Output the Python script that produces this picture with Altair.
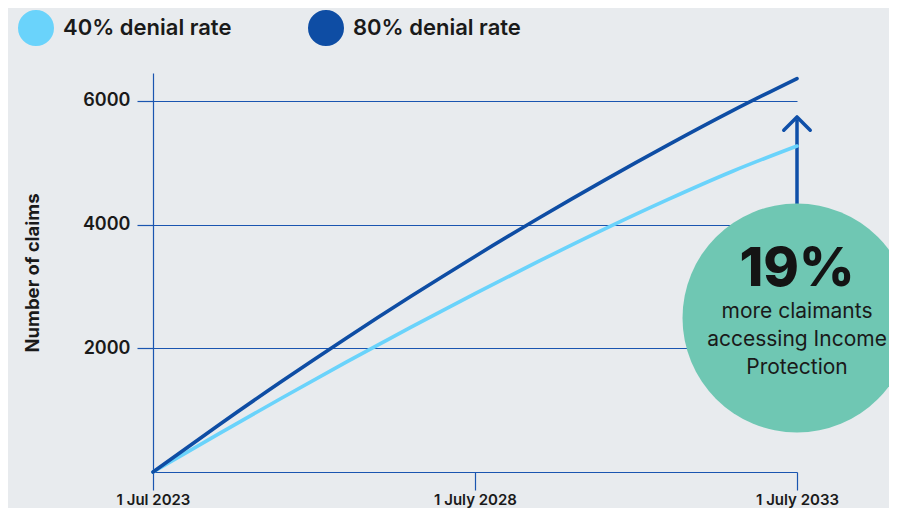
import altair as alt
import pandas as pd

years = [2023, 2024, 2025, 2026, 2027, 2028, 2029, 2030, 2031, 2032, 2033]
denial_40 = [0, 605, 1197, 1775, 2338, 2884, 3412, 3922, 4407, 4862, 5270]
denial_80 = [0, 745, 1466, 2163, 2836, 3485, 4110, 4711, 5288, 5841, 6360]
series_names = ["40% denial rate", "80% denial rate"]
series_colors = ["#6AD3FB", "#0E4DA4"]
y_ticks = [2000, 4000, 6000]
x_ticks = [2023, 2028, 2033]
callout_big = ["19%"]
callout_lines = ["more claimants", "accessing Income", "Protection"]

rows = []
for name, vals in zip(series_names, [denial_40, denial_80]):
    for yr, v in zip(years, vals):
        rows.append({"year": yr, "claims": v, "series": name})
df = pd.DataFrame(rows)

BLUE = "#1A55B0"
FONT = "Inter"

xscale = alt.Scale(domain=[2023, 2033], nice=False, zero=False)
yscale = alt.Scale(domain=[0, 6450], nice=False)

lines = alt.Chart(df).mark_line(strokeWidth=3.6, interpolate="monotone", strokeCap="round").encode(
    x=alt.X("year:Q", scale=xscale, axis=alt.Axis(
        values=x_ticks, title=None, grid=False, domainColor=BLUE, domainWidth=1.2,
        tickColor=BLUE, tickSize=18, tickWidth=1.2, labelPadding=2,
        labelFont=FONT, labelFontSize=15, labelFontWeight=600, labelColor="#1a1a1a",
        labelExpr="datum.value == 2023 ? '1 Jul 2023' : '1 July ' + datum.value",
        labelFlush=False)),
    y=alt.Y("claims:Q", scale=yscale, axis=alt.Axis(
        values=y_ticks, format="d", title="Number of claims", grid=True, gridColor=BLUE,
        gridWidth=1.1, domainColor=BLUE, domainWidth=1.2, tickColor=BLUE, tickSize=16,
        tickWidth=1.2, labelPadding=7, labelFont=FONT, labelFontSize=18, labelFontWeight=600,
        labelColor="#1a1a1a", titleFont=FONT, titleFontSize=18.5, titleFontWeight=700,
        titleColor="#1a1a1a", titlePadding=40)),
    color=alt.Color("series:N", scale=alt.Scale(domain=series_names, range=series_colors),
        legend=alt.Legend(title=None, orient="none", legendX=-135, legendY=-63,
            direction="horizontal", symbolType="circle", symbolSize=324,
            symbolStrokeWidth=18, labelOffset=9, columnPadding=49, padding=0,
            labelLimit=400,
            labelFont=FONT, labelFontSize=22, labelFontWeight=600, labelColor="#1a1a1a")),
)

arrow = alt.Chart(pd.DataFrame({"a": [0]})).mark_rule(color="#0F4FA8", strokeWidth=3.5).encode(
    x=alt.datum(2033, scale=xscale), y=alt.datum(2490, scale=yscale), y2=alt.datum(5700))

head = alt.Chart(pd.DataFrame({"a": [0]})).mark_point(
    shape="M-1,1L0,0L1,1", filled=False, stroke="#0F4FA8", strokeWidth=3.5,
    size=700, opacity=1, strokeCap="round", strokeJoin="round").encode(
    x=alt.datum(2033, scale=xscale), y=alt.datum(5740, scale=yscale))

circle = alt.Chart(pd.DataFrame({"a": [0]})).mark_point(
    shape="circle", filled=True, fill="#6FC7B3", size=229 * 229, opacity=1).encode(
    x=alt.datum(2033, scale=xscale), y=alt.datum(2490, scale=yscale))

big = alt.Chart(pd.DataFrame({"t": callout_big})).mark_text(
    font=FONT, fontSize=54, fontWeight=800, color="#141414", baseline="middle").encode(
    x=alt.datum(2033, scale=xscale), y=alt.datum(3266, scale=yscale), text="t:N")

small_df = pd.DataFrame({"t": callout_lines, "i": [0, 1, 2]})
small = alt.Chart(small_df).mark_text(
    font=FONT, fontSize=21, fontWeight=400, color="#1a1a1a", baseline="middle").encode(
    x=alt.datum(2033, scale=xscale),
    y=alt.Y("yy:Q", scale=yscale),
    text="t:N").transform_calculate(yy="2587 - datum.i * 453")

chart = alt.layer(arrow, head, lines, circle, big, small).properties(
    width=644, height=399,
    autosize=alt.AutoSizeParams(type="none"),
    padding={"left": 145, "top": 65, "right": 92, "bottom": 36},
    background="#E8EBEE",
).configure_view(stroke=None)

chart.save("out.html", embed_options={"renderer": "svg", "actions": False})
